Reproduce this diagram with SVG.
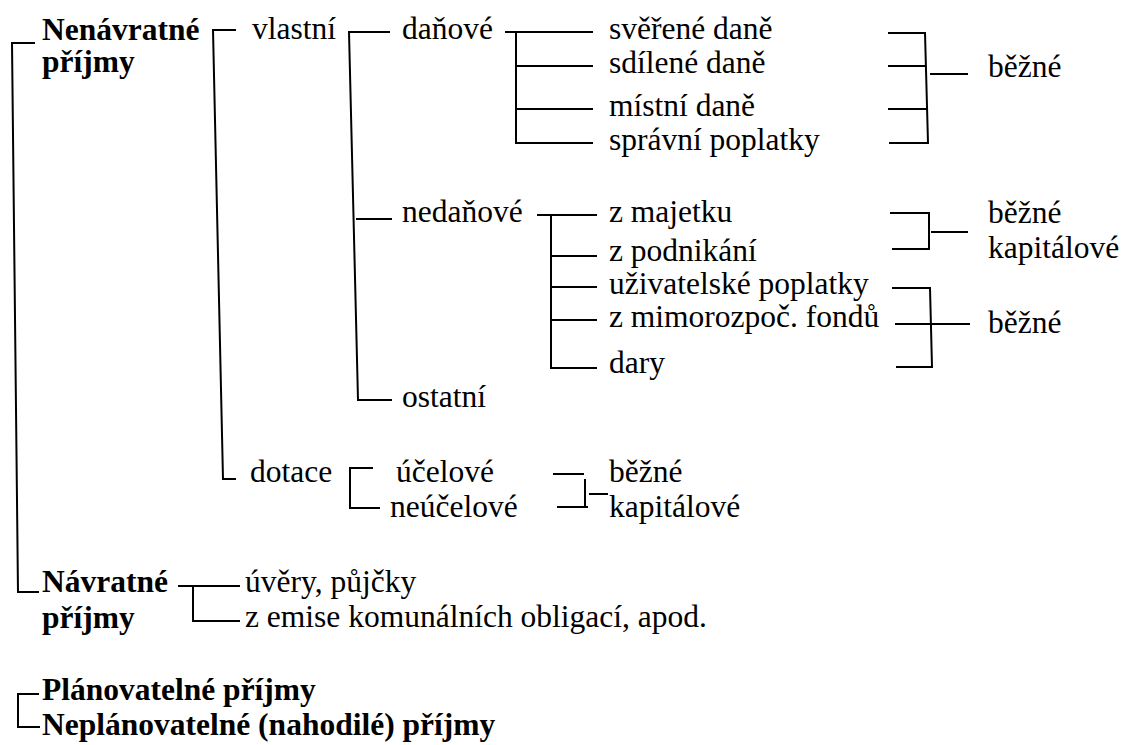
<svg xmlns="http://www.w3.org/2000/svg" width="1121" height="745" viewBox="0 0 1121 745">
<style>
text{font-family:'Liberation Serif','Times New Roman',serif;font-size:31.5px;fill:#000}
.b{font-weight:bold}
.c{fill:none;stroke:#000;stroke-width:2;stroke-linejoin:miter}
</style>
<rect width="1121" height="745" fill="#fff"/>
<g id="connectors" class="c">
<path d="M35,43 H12 L18,592 H39"/>
<path d="M236,30 H213 L223,479 H236"/>
<path d="M390,32 H349 L358,400 H392 M356,219 H392"/>
<path d="M505,32 H593 M516,32 V143 H593 M516,66 H593 M516,109 H593"/>
<path d="M888,33 H925 L928,143 H889 M888,66 H926 M888,109 H927 M930,74 H968"/>
<path d="M537,215 H597 M551,215 V368 H597 M552,256 H597 M552,287 H597 M552,320 H597"/>
<path d="M890,213 H929 V249 H892 M931,232 H968"/>
<path d="M892,288 H930 L932,367 H896 M895,324 H970"/>
<path d="M373,468 H350 V508 H380"/>
<path d="M553,474 H584 M557,507 H588 M585,479 V507 M589,494 H608"/>
<path d="M178,586 H240 M193,586 V621 H240"/>
<path d="M39,694 H18 V727 H40"/>
</g>
<g id="n-nenavratne"><text class="b" x="42" y="40">Nenávratné</text><text class="b" x="42" y="72">příjmy</text></g>
<g id="n-vlastni"><text x="252" y="39">vlastní</text></g>
<g id="n-danove"><text x="402" y="39">daňové</text></g>
<g id="n-sverene"><text x="609" y="39">svěřené daně</text></g>
<g id="n-sdilene"><text x="609" y="73">sdílené daně</text></g>
<g id="n-mistni"><text x="609" y="116">místní daně</text></g>
<g id="n-spravni"><text x="609" y="150">správní poplatky</text></g>
<g id="n-bezne1"><text x="988" y="77">běžné</text></g>
<g id="n-nedanove"><text x="402" y="222">nedaňové</text></g>
<g id="n-majetek"><text x="609" y="222">z majetku</text></g>
<g id="n-podnikani"><text x="609" y="261">z podnikání</text></g>
<g id="n-uzivatelske"><text x="609" y="294">uživatelské poplatky</text></g>
<g id="n-mimorozpoc"><text x="609" y="327">z mimorozpoč. fondů</text></g>
<g id="n-dary"><text x="609" y="373">dary</text></g>
<g id="n-bezne2"><text x="988" y="223">běžné</text><text x="988" y="258">kapitálové</text></g>
<g id="n-bezne3"><text x="988" y="333">běžné</text></g>
<g id="n-ostatni"><text x="402" y="407">ostatní</text></g>
<g id="n-dotace"><text x="250" y="482">dotace</text></g>
<g id="n-ucelove"><text x="396" y="482">účelové</text></g>
<g id="n-neucelove"><text x="390" y="517">neúčelové</text></g>
<g id="n-bezne4"><text x="609" y="482">běžné</text><text x="609" y="517">kapitálové</text></g>
<g id="n-navratne"><text class="b" x="42" y="592">Návratné</text><text class="b" x="42" y="628">příjmy</text></g>
<g id="n-uvery"><text x="245" y="592">úvěry, půjčky</text></g>
<g id="n-emise"><text x="245" y="627">z emise komunálních obligací, apod.</text></g>
<g id="n-planovatelne"><text class="b" x="42" y="700">Plánovatelné příjmy</text></g>
<g id="n-neplanovatelne"><text class="b" x="42" y="735">Neplánovatelné (nahodilé) příjmy</text></g>
</svg>
